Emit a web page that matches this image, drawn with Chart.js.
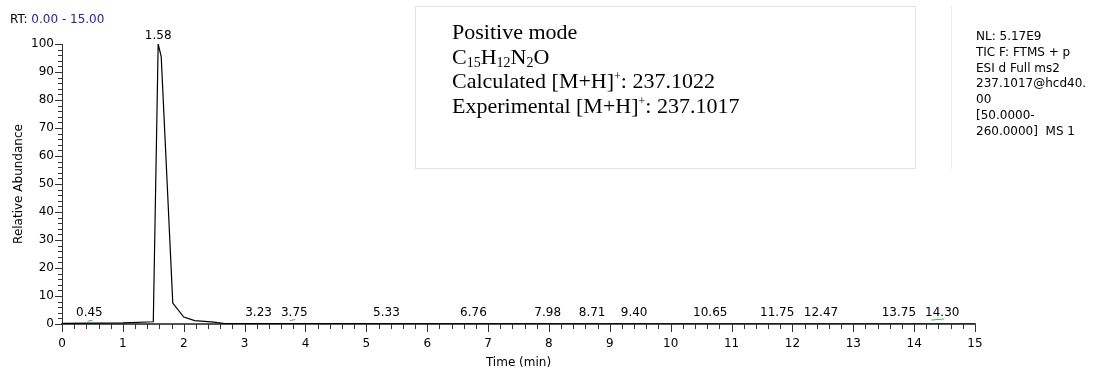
<!DOCTYPE html>
<html>
<head>
<meta charset="utf-8">
<script src="https://cdn.jsdelivr.net/npm/chart.js@4/dist/chart.umd.min.js"></script>
<style>
  body { margin: 0; background: #fff; }
  #wrap { position: relative; width: 1096px; height: 371px; font-family: "DejaVu Sans", Arial, sans-serif; }
  #wrap canvas { position: absolute; left: 0; top: 0; }
  .rt { position: absolute; left: 10px; top: 12px; font-size: 12px; color: #000; }
  .rt span { color: #2323a8; }
  .box { position: absolute; left: 415px; top: 6px; width: 501px; height: 163px; border: 1px solid #e2e2e2; box-sizing: border-box; }
  .boxtext { position: absolute; left: 452px; top: 20px; font-family: "Liberation Serif", "Times New Roman", serif; font-size: 22px; line-height: 24.7px; color: #000; white-space: nowrap; }
  .boxtext sub { font-size: 14px; vertical-align: -3px; line-height: 0; }
  .boxtext sup { font-size: 12px; vertical-align: 8px; line-height: 0; }
  .vline { position: absolute; left: 951px; top: 6px; width: 1px; height: 163px; background: #ececec; }
  .nl { position: absolute; left: 976px; top: 29px; font-size: 12px; line-height: 15.8px; color: #000; white-space: nowrap; }
</style>
</head>
<body>
<div id="wrap">
  <canvas id="chart"></canvas>
  <div class="rt">RT: <span>0.00 - 15.00</span></div>
  <div class="box"></div>
  <div class="boxtext">
    Positive mode<br>
    C<sub>15</sub>H<sub>12</sub>N<sub>2</sub>O<br>
    Calculated [M+H]<sup>+</sup>: 237.1022<br>
    Experimental [M+H]<sup>+</sup>: 237.1017
  </div>
  <div class="vline"></div>
  <div class="nl">
    NL: 5.17E9<br>
    TIC F: FTMS + p<br>
    ESI d Full ms2<br>
    237.1017@hcd40.<br>
    00<br>
    [50.0000-<br>
    260.0000]&nbsp; MS 1
  </div>
</div>
<script>
// chromatogram trace (time in min, relative abundance %)
const times = [0, 0.5, 1.0, 1.50, 1.58, 1.63, 1.82, 2.0, 2.18, 2.5, 2.7, 15];
const abundance = [0.2, 0.3, 0.4, 0.8, 100, 95.5, 7.5, 2.5, 1.2, 0.7, 0.1, 0];

// small green marks near the baseline
const greenTimes = [0.42, 0.50, null, 3.74, 3.83, null, 14.28, 14.49];
const greenValues = [1.0, 1.3, null, 1.2, 1.6, null, 1.4, 1.8];

// labelled peaks
const mainPeak = { time: 1.58, value: 100, text: '1.58' };
const peakLabels = ['0.45', '3.23', '3.75', '5.33', '6.76', '7.98', '8.71', '9.40', '10.65', '11.75', '12.47', '13.75', '14.30'];

const xTicks = [0, 1, 2, 3, 4, 5, 6, 7, 8, 9, 10, 11, 12, 13, 14, 15];
const yTicks = [0, 10, 20, 30, 40, 50, 60, 70, 80, 90, 100];

const trace = times.map((t, i) => ({ x: t, y: abundance[i] }));
const green = greenTimes.map((t, i) => t === null ? { x: NaN, y: null } : { x: t, y: greenValues[i] });

const font = { family: "'DejaVu Sans', Arial, sans-serif", size: 12 };

// minor/major tick marks + peak labels
const decorations = {
  id: 'decorations',
  afterDraw(chart) {
    const ctx = chart.ctx;
    const xs = chart.scales.x, ys = chart.scales.y;
    const left = chart.chartArea.left, bottom = chart.chartArea.bottom;
    ctx.save();
    ctx.strokeStyle = '#333';
    ctx.lineWidth = 1;
    ctx.beginPath();
    for (let v = 0; v <= 100; v += 2) {
      const y = Math.round(ys.getPixelForValue(v)) + 0.5;
      const len = v % 10 === 0 ? 7 : 4;
      ctx.moveTo(left - len, y);
      ctx.lineTo(left, y);
    }
    for (let k = 0; k <= 75; k++) {
      const x = Math.round(xs.getPixelForValue(k / 5)) + 0.5;
      const len = k % 5 === 0 ? 8 : 5;
      ctx.moveTo(x, bottom);
      ctx.lineTo(x, bottom + len);
    }
    ctx.stroke();

    ctx.fillStyle = '#000';
    ctx.font = "12px 'DejaVu Sans', Arial, sans-serif";
    ctx.textAlign = 'center';
    ctx.textBaseline = 'bottom';
    ctx.fillText(mainPeak.text, xs.getPixelForValue(mainPeak.time), ys.getPixelForValue(mainPeak.value) - 2);
    // push a label to the right when it crowds the previous one
    let prevRight = -Infinity;
    peakLabels.forEach(l => {
      const w = ctx.measureText(l).width;
      let cx = xs.getPixelForValue(parseFloat(l));
      if (cx - w / 2 < prevRight + 9) cx = prevRight + 9 + w / 2;
      ctx.fillText(l, cx, bottom - 5);
      prevRight = cx + w / 2;
    });
    ctx.restore();
  }
};

new Chart(document.getElementById('chart'), {
  type: 'line',
  data: {
    datasets: [
      { data: trace, borderColor: '#000', borderWidth: 1.2, pointRadius: 0, tension: 0, fill: false },
      { data: green, borderColor: '#3cb83c', borderWidth: 1, pointRadius: 0, tension: 0, spanGaps: false, fill: false }
    ]
  },
  options: {
    responsive: true,
    maintainAspectRatio: false,
    animation: false,
    layout: { padding: { left: 0, top: 44, right: 121, bottom: 0 } },
    plugins: { legend: { display: false }, tooltip: { enabled: false } },
    scales: {
      x: {
        type: 'linear', min: 0, max: 15,
        afterBuildTicks: s => { s.ticks = xTicks.map(v => ({ value: v })); },
        afterFit: s => { s.height = 47; },
        grid: { display: false, drawTicks: false },
        border: { display: true, color: '#555', width: 2 },
        ticks: { font: font, color: '#000', padding: 13, maxRotation: 0, autoSkip: false },
        title: { display: true, text: 'Time (min)', font: font, color: '#000', padding: { top: 0, bottom: 1 } }
      },
      y: {
        type: 'linear', min: 0, max: 100,
        afterBuildTicks: s => { s.ticks = yTicks.map(v => ({ value: v })); },
        afterFit: s => { s.width = 62; },
        grid: { display: false, drawTicks: false },
        border: { display: true, color: '#333', width: 1 },
        ticks: { font: font, color: '#000', padding: 8, autoSkip: false },
        title: { display: true, text: 'Relative Abundance', font: font, color: '#000', padding: { top: 12, bottom: 0 } }
      }
    }
  },
  plugins: [decorations]
});
</script>
</body>
</html>
